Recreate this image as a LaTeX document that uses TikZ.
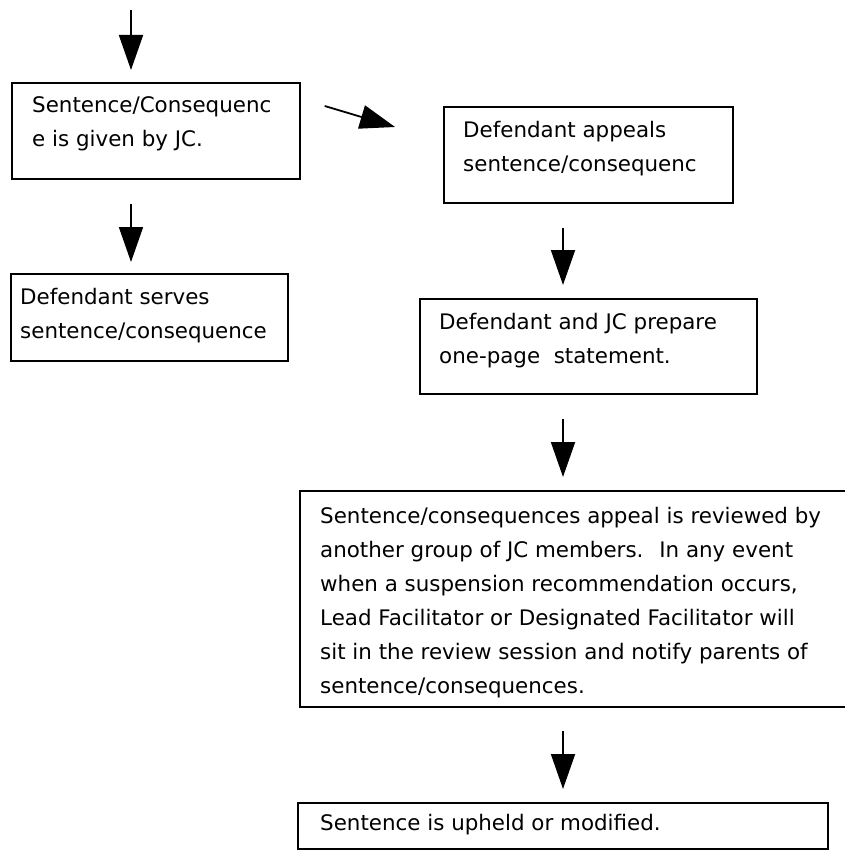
\documentclass[tikz,border=0pt]{standalone}
\usepackage{fontspec}
\setmainfont{DejaVu Sans}
\usetikzlibrary{arrows.meta}
\tikzset{
  bx/.style={draw, line width=1.7pt, anchor=north west, inner sep=0pt},
  tx/.style={anchor=base west, inner sep=0pt, align=left, font=\fontsize{21.4}{34}\selectfont},
  arr/.style={line width=1.8pt, -{Triangle[length=35pt, width=24pt]}}}

\begin{document}
\begin{tikzpicture}[x=1pt, y=-1pt]
\useasboundingbox (0,0) rectangle (844,850);
% boxes
\node[bx, minimum width=288pt, minimum height=96pt] (a) at (11,82) {};
\node[bx, line width=2.3pt, minimum width=277pt, minimum height=87pt] (b) at (10,273) {};
\node[bx, minimum width=289pt, minimum height=96pt] (c) at (443,106) {};
\node[bx, minimum width=337pt, minimum height=95pt] (d) at (419,298) {};
\node[bx, minimum width=560pt, minimum height=216pt] (e) at (299,490) {};
\node[bx, minimum width=530pt, minimum height=46pt] (f) at (297,802) {};
% texts (placed at the baseline of the last line)
\node[tx] (ta) at (32,147) {Sentence/Consequenc\\e is given by JC.};
\node[tx] (tb) at (20,338) {Defendant serves\\sentence/consequence};
\node[tx] (tc) at (463,172) {Defendant appeals\\sentence/consequenc};
\node[tx] (td) at (439,363) {Defendant and JC prepare\\one-page~ statement.};
\node[tx] (te) at (320,693) {Sentence/consequences appeal is reviewed by\\
  another group of JC members.~ In any event\\
  when a suspension recommendation occurs,\\
  Lead Facilitator or Designated Facilitator will\\
  sit in the review session and notify parents of\\
  sentence/consequences.};
\node[tx] (tf) at (320,830) {Sentence is upheld or modified.};
% arrows
\coordinate (in) at (131,10);
\coordinate (k) at (563,0);
\draw[arr] (in) -- ([yshift=12pt]a.north -| in);
\draw[arr, shorten <=24pt, shorten >=11pt] (a.south -| in) -- (b.north -| in);
\draw[arr] ([shift={(24pt,-24pt)}]a.north east) -- ([shift={(-48pt,-21pt)}]c.north west);
\draw[arr, shorten <=24pt, shorten >=13pt] (c.south -| k) -- (d.north -| k);
\draw[arr, shorten <=24pt, shorten >=13pt] (d.south -| k) -- (e.north -| k);
\draw[arr, shorten <=23pt, shorten >=13pt] (e.south -| k) -- (f.north -| k);
\end{tikzpicture}
\end{document}
